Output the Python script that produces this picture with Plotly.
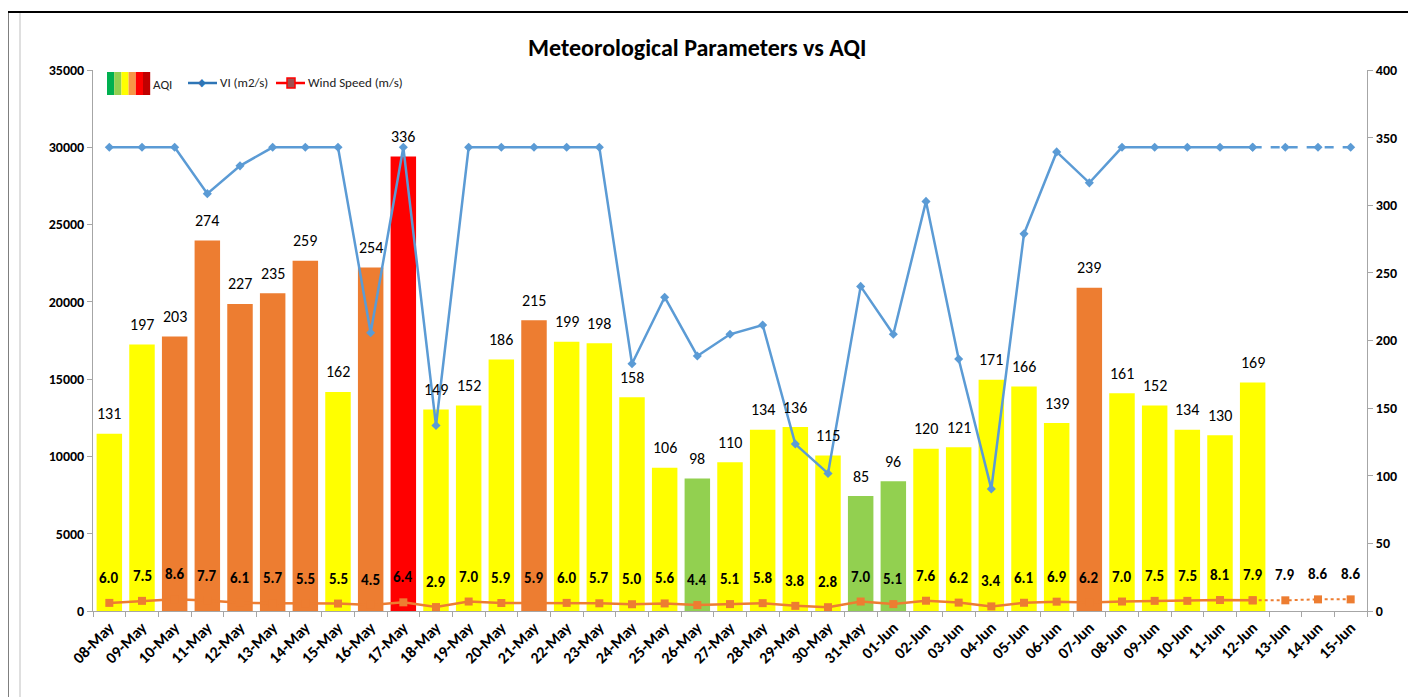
import plotly.graph_objects as go

dates = ["08-May","09-May","10-May","11-May","12-May","13-May","14-May","15-May","16-May","17-May",
         "18-May","19-May","20-May","21-May","22-May","23-May","24-May","25-May","26-May","27-May",
         "28-May","29-May","30-May","31-May","01-Jun","02-Jun","03-Jun","04-Jun","05-Jun","06-Jun",
         "07-Jun","08-Jun","09-Jun","10-Jun","11-Jun","12-Jun","13-Jun","14-Jun","15-Jun"]
aqi = [131,197,203,274,227,235,259,162,254,336,
       149,152,186,215,199,198,158,106,98,110,
       134,136,115,85,96,120,121,171,166,139,
       239,161,152,134,130,169,None,None,None]
vi = [30000,30000,30000,27000,28800,30000,30000,30000,18000,30000,
      12000,30000,30000,30000,30000,30000,16000,20300,16500,17900,
      18500,10800,8900,21000,17900,26500,16300,7900,24400,29700,
      27700,30000,30000,30000,30000,30000,30000,30000,30000]
wind = [6.0,7.5,8.6,7.7,6.1,5.7,5.5,5.5,4.5,6.4,
        2.9,7.0,5.9,5.9,6.0,5.7,5.0,5.6,4.4,5.1,
        5.8,3.8,2.8,7.0,5.1,7.6,6.2,3.4,6.1,6.9,
        6.2,7.0,7.5,7.5,8.1,7.9,7.9,8.6,8.6]
n_obs = 36  # observed days (08-May .. 12-Jun); remaining are forecast

FONT = "Carlito, 'Liberation Sans Narrow', 'DejaVu Sans Condensed', sans-serif"

def aqi_color(v):
    if v is None:
        return "rgba(0,0,0,0)"
    if v <= 50:
        return "#00B050"
    if v <= 100:
        return "#92D050"
    if v <= 200:
        return "#FFFF00"
    if v <= 300:
        return "#ED7D31"
    if v <= 400:
        return "#FF0000"
    return "#C00000"

fig = go.Figure()

fig.add_trace(go.Bar(
    x=dates, y=aqi, yaxis="y", name="AQI",
    marker=dict(color=[aqi_color(v) for v in aqi], line=dict(width=0)),
    width=0.78,
    showlegend=False,
))

# Wind speed (right axis)
fig.add_trace(go.Scatter(
    x=dates[:n_obs], y=wind[:n_obs], yaxis="y", mode="lines+markers",
    line=dict(color="#ED7D31", width=2.5),
    marker=dict(symbol="square", size=8, color="#ED7D31"),
    showlegend=False,
))
fig.add_trace(go.Scatter(
    x=dates[n_obs-1:], y=wind[n_obs-1:], yaxis="y", mode="lines+markers",
    line=dict(color="#ED7D31", width=2, dash="dot"),
    marker=dict(symbol="square", size=8, color="#ED7D31"),
    showlegend=False,
))

# VI (left axis)
fig.add_trace(go.Scatter(
    x=dates[:n_obs], y=vi[:n_obs], yaxis="y2", mode="lines+markers",
    line=dict(color="#5B9BD5", width=2.5),
    marker=dict(symbol="diamond", size=7, color="#5B9BD5"),
    showlegend=False,
))
fig.add_trace(go.Scatter(
    x=dates[n_obs-1:], y=vi[n_obs-1:], yaxis="y2", mode="lines+markers",
    line=dict(color="#5B9BD5", width=2.5, dash="dash"),
    marker=dict(symbol="diamond", size=7, color="#5B9BD5"),
    showlegend=False,
))

annotations = []
for d, v in zip(dates, aqi):
    if v is None:
        continue
    annotations.append(dict(
        x=d, y=v, xref="x", yref="y", text=str(v), showarrow=False,
        yanchor="middle", yshift=20, font=dict(family=FONT, size=16, color="#000000"),
    ))
for d, w in zip(dates, wind):
    annotations.append(dict(
        x=d, y=w, xref="x", yref="y", text=f"<b>{w:.1f}</b>", showarrow=False,
        yshift=25, font=dict(family=FONT, size=15, color="#000000"),
    ))

def px(x):
    return (x - 93) / 1274

def py(y):
    return (611 - y) / 541

# title
annotations.append(dict(
    x=px(697), y=py(48), xref="paper", yref="paper",
    text="<b>Meteorological Parameters vs AQI</b>", showarrow=False,
    font=dict(family=FONT, size=24, color="#000000"), xanchor="center", yanchor="middle",
))

shapes = []
# AQI legend swatch
swatch = ["#00B050", "#92D050", "#FFFF00", "#F79646", "#FF0000", "#C00000"]
sw_x0 = 107
sw_w = 7.2
for i, c in enumerate(swatch):
    shapes.append(dict(type="rect", xref="paper", yref="paper",
                       x0=px(sw_x0 + i * sw_w), x1=px(sw_x0 + (i + 1) * sw_w),
                       y0=py(95), y1=py(72), fillcolor=c, line=dict(width=0)))
annotations.append(dict(x=px(151), y=py(84), xref="paper", yref="paper", text="AQI",
                        showarrow=False, xanchor="left", yanchor="middle",
                        font=dict(family=FONT, size=13, color="#222222")))
# VI legend
shapes.append(dict(type="line", xref="paper", yref="paper", x0=px(188), x1=px(217),
                   y0=py(83), y1=py(83), line=dict(color="#2E75B6", width=2.5)))
annotations.append(dict(x=px(202), y=py(83), xref="paper", yref="paper", text="◆",
                        showarrow=False, xanchor="center", yanchor="middle",
                        font=dict(size=11, color="#2E75B6")))
annotations.append(dict(x=px(218), y=py(83), xref="paper", yref="paper", text="VI (m2/s)",
                        showarrow=False, xanchor="left", yanchor="middle",
                        font=dict(family=FONT, size=13, color="#222222")))
# Wind legend
shapes.append(dict(type="line", xref="paper", yref="paper", x0=px(276), x1=px(305),
                   y0=py(83), y1=py(83), line=dict(color="#FF0000", width=2.5)))
shapes.append(dict(type="rect", xref="paper", yref="paper", x0=px(287), x1=px(295),
                   y0=py(88), y1=py(78), fillcolor="#A05050", line=dict(color="#FF0000", width=1.5)))
annotations.append(dict(x=px(306), y=py(83), xref="paper", yref="paper", text="Wind Speed (m/s)",
                        showarrow=False, xanchor="left", yanchor="middle",
                        font=dict(family=FONT, size=13, color="#222222")))

# frame lines
shapes.append(dict(type="line", xref="paper", yref="paper", x0=px(6), x1=px(1416),
                   y0=py(12), y1=py(12), line=dict(color="#000000", width=2)))
shapes.append(dict(type="line", xref="paper", yref="paper", x0=px(7), x1=px(7),
                   y0=py(12), y1=py(697), line=dict(color="#000000", width=3)))
shapes.append(dict(type="line", xref="paper", yref="paper", x0=px(20), x1=px(20),
                   y0=py(13), y1=py(697), line=dict(color="#BFBFBF", width=1)))

axis_font = dict(family=FONT, size=14, color="#000000")

# page body has an 8px margin: figure placed so plot area lands at x 93..1367, y 70..611
fig.update_layout(
    width=1408, height=689,
    margin=dict(l=85, r=49, t=62, b=86, autoexpand=False),
    paper_bgcolor="#FFFFFF", plot_bgcolor="#FFFFFF",
    showlegend=False,
    font=dict(family=FONT),
    xaxis=dict(
        type="category", range=[-0.5, len(dates) - 0.5],
        tickangle=-45, tickfont=dict(family=FONT, size=16, color="#000000"),
        ticks="outside", tickson="boundaries", ticklen=5, tickcolor="#A6A6A6",
        showline=True, linecolor="#A6A6A6", linewidth=1, showgrid=False,
        tickprefix="<b>", ticksuffix="</b>", automargin=False,
    ),
    yaxis=dict(
        side="right", range=[0, 400], dtick=50, showgrid=False, zeroline=False,
        showline=True, linecolor="#A6A6A6", linewidth=1,
        ticks="outside", ticklen=5, tickcolor="#A6A6A6",
        tickfont=axis_font, tickprefix="<b>", ticksuffix="</b>", tickformat="d",
        automargin=False,
    ),
    yaxis2=dict(
        side="left", overlaying="y", range=[0, 35000], dtick=5000, showgrid=False,
        zeroline=False, showline=True, linecolor="#A6A6A6", linewidth=1,
        ticks="outside", ticklen=5, tickcolor="#A6A6A6",
        tickfont=axis_font, tickprefix="<b>", ticksuffix="</b>", tickformat="d",
        automargin=False,
    ),
    annotations=annotations,
    shapes=shapes,
)

fig.write_html("out.html")
